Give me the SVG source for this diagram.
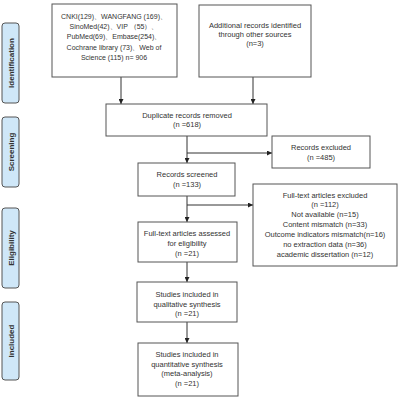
<svg xmlns="http://www.w3.org/2000/svg" width="400" height="400" viewBox="0 0 400 400">
<defs>
<marker id="ah" viewBox="0 0 6 6" refX="6" refY="3" markerWidth="5" markerHeight="5" orient="auto" markerUnits="userSpaceOnUse">
<path d="M0,0 L6,3 L0,6 Z" fill="#222"/>
</marker>
<style>
.box{fill:#fff;stroke:#555;stroke-width:1}
.side{fill:#cfe7f8;stroke:#555;stroke-width:1}
.t{font-family:"Liberation Sans",Arial,sans-serif;font-size:7.5px;fill:#333;text-anchor:middle}
.t2{font-family:"Liberation Sans",Arial,sans-serif;font-size:7px;fill:#333;text-anchor:middle}
.s{font-family:"Liberation Sans",Arial,sans-serif;font-size:8px;font-weight:bold;fill:#333;text-anchor:middle}
.c{fill:none;stroke:#333;stroke-width:1}
</style>
</defs>
<rect width="400" height="400" fill="#fff"/>

<g id="side-identification"><rect class="side" x="2" y="23" width="17" height="80" rx="3"/><text class="s" transform="translate(13.7,63) rotate(-90)">Identification</text></g>
<g id="side-screening"><rect class="side" x="2" y="117" width="17" height="70" rx="3"/><text class="s" transform="translate(13.7,152) rotate(-90)">Screening</text></g>
<g id="side-eligibility"><rect class="side" x="2" y="208" width="17" height="80" rx="3"/><text class="s" transform="translate(13.7,248) rotate(-90)">Eligibility</text></g>
<g id="side-included"><rect class="side" x="2" y="302" width="17" height="78" rx="3"/><text class="s" transform="translate(13.7,341) rotate(-90)">Included</text></g>

<g id="connectors">
<line class="c" x1="121" y1="77" x2="121" y2="104" marker-end="url(#ah)"/>
<line class="c" x1="253" y1="77" x2="253" y2="104" marker-end="url(#ah)"/>
<line class="c" x1="187" y1="136" x2="187" y2="163" marker-end="url(#ah)"/>
<line class="c" x1="187" y1="153" x2="272" y2="153" marker-end="url(#ah)"/>
<line class="c" x1="187" y1="196" x2="187" y2="222" marker-end="url(#ah)"/>
<line class="c" x1="187" y1="205" x2="253" y2="205" marker-end="url(#ah)"/>
<line class="c" x1="187" y1="262" x2="187" y2="282" marker-end="url(#ah)"/>
<line class="c" x1="187" y1="322" x2="187" y2="343" marker-end="url(#ah)"/>
</g>

<g id="databases"><rect class="box" x="52" y="4" width="125" height="73"/>
<text class="t2" x="114" y="18.5">CNKI(129)、WANGFANG (169)、</text>
<text class="t2" x="114" y="28.8">SinoMed(42)、VIP （55）、</text>
<text class="t2" x="114" y="39">PubMed(69)、Embase(254)、</text>
<text class="t2" x="114" y="49.5">Cochrane library (73)、Web of</text>
<text class="t2" x="114" y="59.8">Science (115)  n= 906</text></g>

<g id="additional"><rect class="box" x="199" y="5" width="112" height="72"/>
<text class="t" x="255" y="27.5">Additional records identified</text>
<text class="t" x="255" y="36.5">through other sources</text>
<text class="t" x="255" y="45.5">(n=3)</text></g>

<g id="duplicates"><rect class="box" x="106" y="104" width="161" height="32"/>
<text class="t" x="187" y="117.5">Duplicate records removed</text>
<text class="t" x="187" y="126.5">(n =618)</text></g>

<g id="excluded"><rect class="box" x="272" y="136" width="98" height="32"/>
<text class="t" x="321" y="149.5">Records excluded</text>
<text class="t" x="321" y="159.5">(n =485)</text></g>

<g id="screened"><rect class="box" x="138" y="163" width="97" height="33"/>
<text class="t" x="187" y="176.5">Records screened</text>
<text class="t" x="187" y="186.5">(n =133)</text></g>

<g id="fulltext-excluded"><rect class="box" x="253" y="184" width="144" height="82"/>
<text class="t" x="325" y="197.5">Full-text articles excluded</text>
<text class="t" x="325" y="207">(n =112)</text>
<text class="t" x="325" y="217">Not available (n=15)</text>
<text class="t" x="325" y="227">Content mismatch (n=33)</text>
<text class="t" x="325" y="237">Outcome indicators mismatch(n=16)</text>
<text class="t" x="325" y="247">no extraction data (n=36)</text>
<text class="t" x="325" y="257">academic dissertation (n=12)</text></g>

<g id="assessed"><rect class="box" x="138" y="222" width="99" height="40"/>
<text class="t" x="187" y="235.5">Full-text articles assessed</text>
<text class="t" x="187" y="245.5">for eligibility</text>
<text class="t" x="187" y="255.5">(n =21)</text></g>

<g id="qualitative"><rect class="box" x="137" y="282" width="100" height="40"/>
<text class="t" x="187" y="296.5">Studies included in</text>
<text class="t" x="187" y="306.5">qualitative synthesis</text>
<text class="t" x="187" y="316">(n =21)</text></g>

<g id="quantitative"><rect class="box" x="138" y="343" width="100" height="53"/>
<text class="t" x="187" y="356.5">Studies included in</text>
<text class="t" x="187" y="366.5">quantitative synthesis</text>
<text class="t" x="187" y="376">(meta-analysis)</text>
<text class="t" x="187" y="385.5">(n =21)</text></g>
</svg>
